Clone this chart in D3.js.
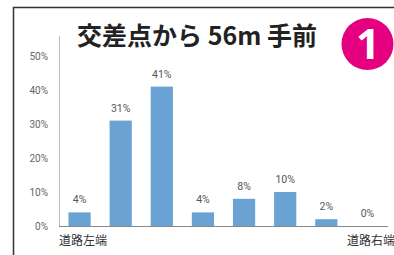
<!DOCTYPE html>
<html>
<head>
<meta charset="utf-8">
<script src="https://cdn.jsdelivr.net/npm/d3@7"></script>
<style>
body { margin: 0; background: #fff; }
svg { display: block; }
</style>
</head>
<body>
<script>
var w = 394;
var h = 255;

var categories = ["c1", "c2", "c3", "c4", "c5", "c6", "c7", "c8"];
var values = [4, 31, 41, 4, 8, 10, 2, 0];
var tickValues = [0, 10, 20, 30, 40, 50];
var title = "交差点から 56m 手前";
var leftLabel = "道路左端";
var rightLabel = "道路右端";

var svg = d3.select("body")
    .append("svg")
    .attr("width", w)
    .attr("height", h);

// frame
svg.append("path")
    .attr("d", "M13.5,255 V7.5 H394")
    .attr("fill", "none")
    .attr("stroke", "#333")
    .attr("stroke-width", 1.5);

var x = d3.scaleBand()
    .domain(categories)
    .range([59, 388])
    .paddingInner(0.46)
    .paddingOuter(0.23);

var y = d3.scaleLinear()
    .domain([0, 50])
    .range([226, 56]);

// y axis line
svg.append("line")
    .attr("x1", 59.5).attr("x2", 59.5)
    .attr("y1", 36).attr("y2", 226)
    .attr("stroke", "#bbb");

svg.selectAll("text.tick")
    .data(tickValues)
    .enter()
    .append("text")
    .attr("class", "tick")
    .attr("x", 48)
    .attr("y", function(d){ return y(d) + 4; })
    .attr("text-anchor", "end")
    .attr("font-family", "Roboto, sans-serif")
    .attr("font-size", 10)
    .attr("fill", "#666")
    .text(function(d){ return d + "%"; });

svg.selectAll("rect")
    .data(values)
    .enter()
    .append("rect")
    .attr("x", function(d, i){ return x(categories[i]); })
    .attr("y", function(d){ return y(d); })
    .attr("width", x.bandwidth())
    .attr("height", function(d){ return 226 - y(d); })
    .attr("fill", "#6aa3d3");

// baseline
svg.append("line")
    .attr("x1", 59).attr("x2", 388)
    .attr("y1", 226.5).attr("y2", 226.5)
    .attr("stroke", "#888");

svg.selectAll("text.val")
    .data(values)
    .enter()
    .append("text")
    .attr("class", "val")
    .attr("x", function(d, i){ return x(categories[i]) + x.bandwidth() / 2; })
    .attr("y", function(d){ return y(d) - 9; })
    .attr("text-anchor", "middle")
    .attr("font-family", "Roboto, sans-serif")
    .attr("font-size", 10.5)
    .attr("fill", "#555")
    .text(function(d){ return d + "%"; });

svg.append("text")
    .attr("x", 59).attr("y", 245)
    .attr("font-family", "'Noto Sans CJK JP', sans-serif")
    .attr("font-size", 12)
    .attr("fill", "#333")
    .text(leftLabel);

svg.append("text")
    .attr("x", 347).attr("y", 245)
    .attr("font-family", "'Noto Sans CJK JP', sans-serif")
    .attr("font-size", 12)
    .attr("fill", "#333")
    .text(rightLabel);

svg.append("text")
    .attr("x", 197).attr("y", 45)
    .attr("text-anchor", "middle")
    .attr("font-family", "'Noto Sans CJK JP', sans-serif")
    .attr("font-weight", "bold")
    .attr("font-size", 25)
    .attr("fill", "#222")
    .text(title);

svg.append("circle")
    .attr("cx", 367.5).attr("cy", 44)
    .attr("r", 26)
    .attr("fill", "#e4007f");

svg.append("text")
    .attr("x", 368).attr("y", 59)
    .attr("text-anchor", "middle")
    .attr("font-family", "'Noto Sans', sans-serif")
    .attr("font-weight", "bold")
    .attr("font-size", 42)
    .attr("fill", "#fff")
    .text("1");
</script>
</body>
</html>
